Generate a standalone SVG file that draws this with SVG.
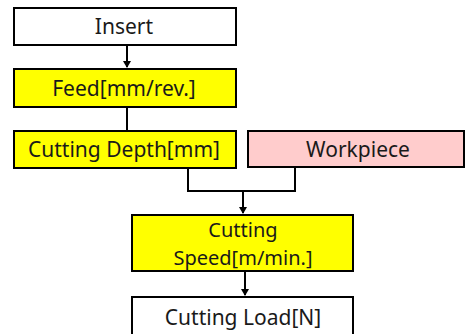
<svg xmlns="http://www.w3.org/2000/svg" width="466" height="334" viewBox="0 0 466 334">
<style>
.box{stroke:#000;stroke-width:2}
.w{fill:#fff}
.y{fill:#ffff00}
.p{fill:#ffcccc}
text{font-family:"Noto Sans","Open Sans",sans-serif;font-size:21px;fill:#1a1a1a;text-anchor:middle}
.s{font-size:20px}
.c{fill:none;stroke:#000;stroke-width:2}
</style>
<defs>
<marker id="ah" markerWidth="8" markerHeight="8" refX="6" refY="4" orient="auto" markerUnits="userSpaceOnUse">
<path d="M0,0 L7,4 L0,8 Z" fill="#000"/>
</marker>
</defs>
<rect width="466" height="334" fill="#fff"/>
<g id="connectors">
<line class="c" x1="127" y1="45" x2="127" y2="67" marker-end="url(#ah)"/>
<line class="c" x1="127" y1="107" x2="127" y2="131"/>
<polyline class="c" points="188,168 188,191 295,191 295,168"/>
<line class="c" x1="243" y1="191" x2="243" y2="213" marker-end="url(#ah)"/>
<line class="c" x1="245" y1="271" x2="245" y2="295" marker-end="url(#ah)"/>
</g>
<g id="insert"><rect class="box w" x="14" y="8" width="222" height="37"/><text x="124" y="34">Insert</text></g>
<g id="feed"><rect class="box y" x="14" y="69" width="222" height="38"/><text x="124" y="96">Feed[mm/rev.]</text></g>
<g id="depth"><rect class="box y" x="14" y="131" width="222" height="37"/><text x="124" y="157">Cutting Depth[mm]</text></g>
<g id="workpiece"><rect class="box p" x="248" y="131" width="216" height="36"/><text x="358" y="157">Workpiece</text></g>
<g id="speed"><rect class="box y" x="132" y="215" width="221" height="56"/><text class="s" x="243" y="237">Cutting</text><text class="s" x="243" y="265">Speed[m/min.]</text></g>
<g id="load"><rect class="box w" x="132" y="297" width="221" height="45"/><text x="243" y="325">Cutting Load[N]</text></g>
</svg>
